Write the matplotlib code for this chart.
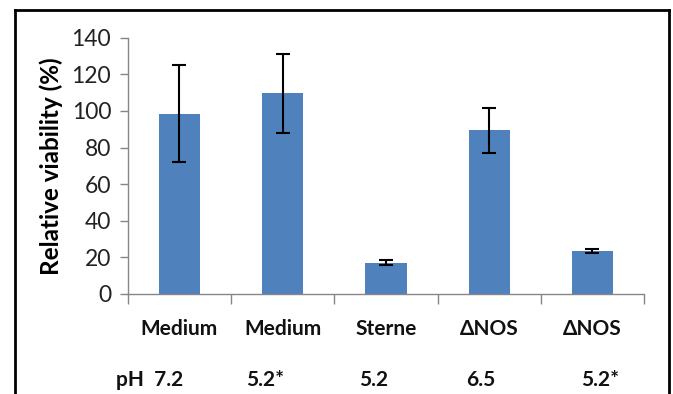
import matplotlib.pyplot as plt
from matplotlib.lines import Line2D
from matplotlib.transforms import blended_transform_factory

plt.rcParams['font.family'] = ['Lato', 'DejaVu Sans']

# data
groups = ['Medium', 'Medium', 'Sterne', '\u0394NOS', '\u0394NOS']
ph_labels = ['pH  7.2', '5.2*', '5.2', '6.5', '5.2*']
viability = [98.5, 109.6, 17.1, 89.4, 23.6]
errors = [26.5, 21.5, 1.2, 12.1, 1.2]

ph_pos = [-0.29, 0.83, 1.88, 2.92, 4.07]

fig = plt.figure(figsize=(6.73, 3.94), dpi=100)
ax = fig.add_axes([0.190, 0.254, 0.767, 0.650])

x = list(range(len(groups)))
ax.bar(x, viability, width=0.4, color='#4F81BD', zorder=2)
ax.errorbar(x, viability, yerr=errors, fmt='none', ecolor='black',
            elinewidth=1.5, capsize=5, capthick=1.5, zorder=3)

ax.set_xlim(-0.5, 4.5)
ax.set_ylim(0, 140)
ax.set_yticks(range(0, 141, 20))

ax.spines['top'].set_visible(False)
ax.spines['right'].set_visible(False)
for s in ['left', 'bottom']:
    ax.spines[s].set_color('#868686')
    ax.spines[s].set_linewidth(1.0)

ax.tick_params(axis='y', direction='out', length=6, width=1, color='#868686',
               labelsize=16.5, labelcolor='#222222', pad=6)

# category labels at bar centres, tick marks at the boundaries
ax.set_xticks(x)
ax.set_xticklabels(groups, fontsize=15, fontweight='bold')
ax.tick_params(axis='x', which='major', length=0, pad=18, labelcolor='#111111')
ax.set_xticks([i - 0.5 for i in range(len(groups) + 1)], minor=True)
ax.tick_params(axis='x', which='minor', direction='out', length=7, width=1,
               color='#868686')

trans = blended_transform_factory(ax.transData, ax.transAxes)
for px, lab in zip(ph_pos, ph_labels):
    ax.text(px, -0.335, lab, transform=trans, ha='center', va='center',
            fontsize=15, fontweight='bold', color='#111111')

ax.set_ylabel('Relative viability (%)', fontsize=17.5, fontweight='bold',
              labelpad=6)

# chart border (bottom edge is cropped in the original)
l, r, t = 15 / 673, 669 / 673, 1 - 10 / 394
for xs, ys in [([l, l], [0, t]), ([l, r], [t, t]), ([r, r], [t, 0])]:
    fig.add_artist(Line2D(xs, ys, color='black', linewidth=2,
                          transform=fig.transFigure))

fig.savefig('out.png', dpi=100)
